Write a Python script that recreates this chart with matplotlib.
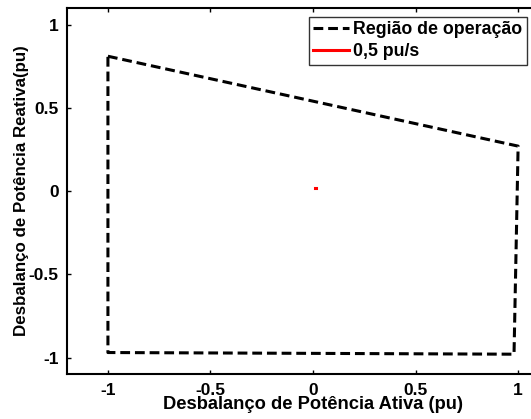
import numpy as np
import matplotlib; matplotlib.use("Agg")
import matplotlib.pyplot as plt

plt.rcParams["font.family"] = ["Liberation Sans", "DejaVu Sans"]
plt.rcParams["font.weight"] = "bold"
plt.rcParams["axes.labelweight"] = "bold"

# operating region polygon (closed)
reg_p = [-1.0, 1.0, 0.98, -1.0, -1.0]
reg_q = [0.81, 0.27, -0.98, -0.97, 0.81]
# 0,5 pu/s trajectory (tiny, near origin)
traj_p = [0.008, 0.014]
traj_q = [0.02, 0.02]

xticks = [-1, -0.5, 0, 0.5, 1]
yticks = [-1, -0.5, 0, 0.5, 1]
ticklabels = ["-1", "-0.5", "0", "0.5", "1"]

fig = plt.figure(figsize=(5.31, 4.19), dpi=100)
ax = fig.add_axes([0.126, 0.107, 0.927, 0.874])
ax.plot(reg_p, reg_q, "k--", lw=2.2, dashes=(3.2, 1.6), label="Região de operação")
ax.plot(traj_p, traj_q, "r-", lw=2.2, label="0,5 pu/s")
ax.set_xlim(-1.2, 1.2); ax.set_ylim(-1.1, 1.1)
ax.set_xticks(xticks); ax.set_yticks(yticks)
ax.set_xticklabels(ticklabels); ax.set_yticklabels(ticklabels)
ax.tick_params(direction="in", length=3, width=1, labelsize=12.5, pad=6,
               top=True, right=True)
for s in ax.spines.values():
    s.set_linewidth(1.5)
ax.set_xlabel("Desbalanço de Potência Ativa (pu)", fontsize=13.2, labelpad=-1)
ax.set_ylabel("Desbalanço de Potência Reativa(pu)", fontsize=12.2, labelpad=0)
leg = ax.legend(loc="upper right", bbox_to_anchor=(527/531, 1 - 17/419),
                bbox_transform=fig.transFigure, fontsize=12.8,
                frameon=True, fancybox=False, edgecolor="k", borderpad=0.25,
                handlelength=2.0, handletextpad=0.25, labelspacing=0.28,
                borderaxespad=0)
leg.get_frame().set_linewidth(1)
fig.savefig("out.png", dpi=100)
